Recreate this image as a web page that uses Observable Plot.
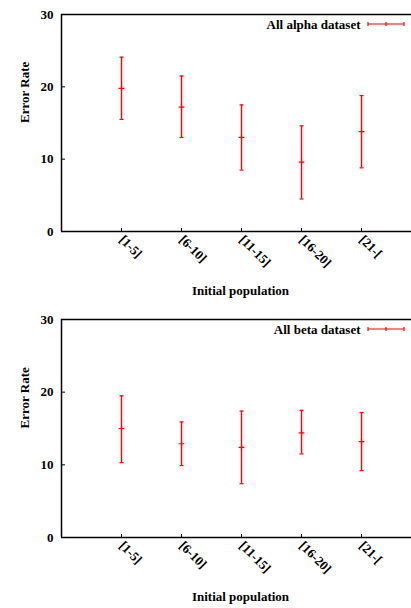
<!DOCTYPE html>
<html>
<head>
<meta charset="utf-8">
<script src="https://cdn.jsdelivr.net/npm/d3@7"></script>
<script src="https://cdn.jsdelivr.net/npm/@observablehq/plot@0.6"></script>
<style>
body { margin: 0; background: #fff; }
#chart > svg { display: block; }
</style>
</head>
<body>
<div id="chart"></div>
<script>
const categories = ["[1-5]", "[6-10]", "[11-15]", "[16-20]", "[21-["];
const alphaMean = [19.8, 17.2, 13.0, 9.6, 13.8];
const alphaLow = [15.5, 13.0, 8.5, 4.5, 8.8];
const alphaHigh = [24.1, 21.5, 17.5, 14.6, 18.8];
const betaMean = [15.0, 12.9, 12.4, 14.4, 13.2];
const betaLow = [10.3, 9.9, 7.4, 11.5, 9.2];
const betaHigh = [19.5, 15.9, 17.4, 17.5, 17.2];
const yTicks = [0, 10, 20, 30];
const xLabel = "Initial population";
const yLabel = "Error Rate";
const panels = [
  {name: "All alpha dataset", mean: alphaMean, low: alphaLow, high: alphaHigh, marginTop: 14, marginBottom: 73},
  {name: "All beta dataset", mean: betaMean, low: betaLow, high: betaHigh, marginTop: 15, marginBottom: 71}
];

const hline = {draw(ctx, size) { const r = Math.sqrt(size / Math.PI); ctx.moveTo(-r, 0); ctx.lineTo(r, 0); }};
const RED = "#ff0000";
const FS = 13;

for (const p of panels) {
  const data = categories.map((c, i) => ({x: i + 1, cat: c, mean: p.mean[i], low: p.low[i], high: p.high[i]}));
  const svg = Plot.plot({
    width: 411,
    height: 304,
    marginLeft: 61,
    marginRight: 0,
    marginTop: p.marginTop,
    marginBottom: p.marginBottom,
    style: {fontFamily: "'Liberation Serif', 'DejaVu Serif', serif", fontSize: FS + "px", fontWeight: "bold", color: "#000", background: "#fff"},
    x: {domain: [0, 5.833], axis: null},
    y: {domain: [0, 30], axis: null},
    marks: [
      Plot.axisY({ticks: yTicks, tickSize: -4, tickPadding: 12, tickFormat: d => d, label: null, stroke: "#000", fontSize: FS}),
      Plot.axisX({ticks: [1, 2, 3, 4, 5], tickSize: -3, tickPadding: 9, tickRotate: 45, tickFormat: d => categories[d - 1], label: null, stroke: "#000", fontSize: FS}),
      Plot.ruleY([0, 30], {stroke: "#000", strokeWidth: 1.5}),
      Plot.ruleX([0], {stroke: "#000", strokeWidth: 1.5}),
      Plot.ruleX(data, {x: "x", y1: "low", y2: "high", stroke: RED, strokeWidth: 1.4}),
      Plot.dot(data, {x: "x", y: "low", symbol: hline, r: 2, stroke: RED, strokeWidth: 1.2}),
      Plot.dot(data, {x: "x", y: "high", symbol: hline, r: 2, stroke: RED, strokeWidth: 1.2}),
      Plot.dot(data, {x: "x", y: "mean", symbol: "plus", r: 2, stroke: RED, strokeWidth: 1.2}),
      Plot.text([xLabel], {frameAnchor: "bottom", dx: 4, dy: 63, fontSize: FS, fontWeight: "bold", fill: "#000"}),
      Plot.text([yLabel], {frameAnchor: "left", dx: -37, rotate: -90, fontSize: FS, fontWeight: "bold", fill: "#000"}),
      Plot.text([p.name], {frameAnchor: "top-right", dx: -51, dy: 10.5, lineAnchor: "middle", textAnchor: "end", fontSize: FS, fontWeight: "bold", fill: "#000"})
    ]
  });
  const s = d3.select(svg);
  const ly = p.marginTop + 10;
  const g = s.append("g").attr("stroke", RED).attr("stroke-width", 1.2).attr("fill", "none");
  g.append("line").attr("x1", 368).attr("x2", 404).attr("y1", ly).attr("y2", ly);
  g.append("line").attr("x1", 368).attr("x2", 368).attr("y1", ly - 2).attr("y2", ly + 2);
  g.append("line").attr("x1", 404).attr("x2", 404).attr("y1", ly - 2).attr("y2", ly + 2);
  g.append("line").attr("x1", 386).attr("x2", 386).attr("y1", ly - 2).attr("y2", ly + 2);
  document.getElementById("chart").appendChild(svg);
}
</script>
</body>
</html>
